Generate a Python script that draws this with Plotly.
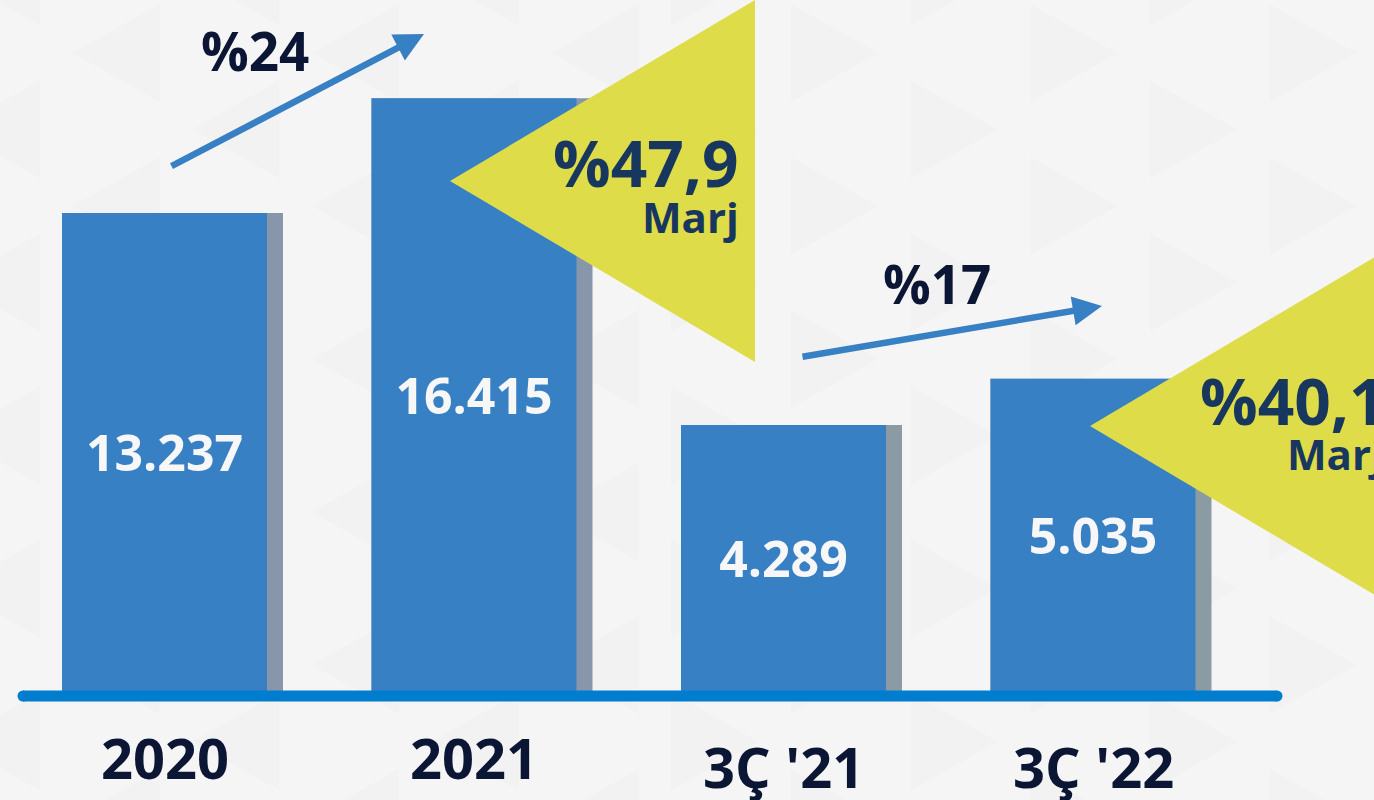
#%%

import plotly.graph_objs as go


categories = ["2020", "2021", "3Ç '21", "3Ç '22"]
values = [13237, 16415, 4289, 5035]     # yearly pair, then 3rd-quarter pair
growth = ["%24", "%17"]
margins = ["%47,9", "%40,1"]
margin_word = "Marj"

W, H = 1374, 800
blue = "#3880c4"
shade = ["#8796aa", "#8a9ba3"]
yellow = "#dfdc4a"
ink = "#0b1634"
navy = "#17375f"
font = "Open Sans"


def px(x):
    return x / W


def py(y):
    return 1 - y / H


# category axis: 309.5 px per category, first centre at 164.5 px
step = 309.5
bw = 205 / step
sw = 221 / step

fig = go.Figure()

# two scales: years on y, quarters on y2
for sl, ax, sc in [(slice(0, 2), "y", shade[0]), (slice(2, 4), "y2", shade[1])]:
    fig.add_trace(go.Bar(x=categories[sl], y=values[sl], yaxis=ax,
                         width=sw, offset=-bw / 2, marker=dict(color=sc, line=dict(width=0)),
                         hoverinfo="skip"))
    fig.add_trace(go.Bar(x=categories[sl], y=values[sl], yaxis=ax,
                         width=bw, offset=-bw / 2, marker=dict(color=blue, line=dict(width=0)),
                         texttemplate="%{y:,.0f}", textposition="inside",
                         insidetextanchor="middle", textangle=0,
                         textfont=dict(family=font, size=50, color="#f7f7f7", weight=700),
                         hoverinfo="skip"))

shapes = []

# faint triangle pattern in the background
for i in range(12):
    left = -47 + 119.7 * i
    for j in range(-1, 12):
        if (i + j) % 2 == 0:
            continue
        cy = 53 + 76.5 * j
        if i < 6:
            pts = [(left, cy), (left + 87, cy - 49), (left + 87, cy + 49)]
        else:
            pts = [(left + 87, cy), (left, cy - 49), (left, cy + 49)]
        path = "M " + " L ".join("%f,%f" % (px(a), py(b)) for a, b in pts) + " Z"
        shapes.append(dict(type="path", path=path, xref="paper", yref="paper",
                           fillcolor="#f2f2f2", line=dict(width=0), layer="below"))

# yellow margin triangles
for tip_x, tip_y in [(450, 181), (1090, 426)]:
    pts = [(tip_x, tip_y), (tip_x + 305, tip_y - 181), (tip_x + 305, tip_y + 181)]
    path = "M " + " L ".join("%f,%f" % (px(a), py(b)) for a, b in pts) + " Z"
    shapes.append(dict(type="path", path=path, xref="paper", yref="paper",
                       fillcolor=yellow, line=dict(width=0), layer="above"))

# baseline with round ends
base_y = 696
shapes.append(dict(type="line", xref="paper", yref="paper", x0=px(23), x1=px(1277),
                   y0=py(base_y), y1=py(base_y), line=dict(color="#007dce", width=11), layer="above"))
for cx in [23, 1277]:
    shapes.append(dict(type="circle", xref="paper", yref="paper",
                       x0=px(cx - 5.5), x1=px(cx + 5.5), y0=py(base_y - 5.5), y1=py(base_y + 5.5),
                       fillcolor="#007dce", line=dict(width=0), layer="above"))

ann = []

# category labels under the baseline (x given as category index)
label_y = [757, 757, 766, 766]
for i, (c, ly) in enumerate(zip(categories, label_y)):
    ann.append(dict(x=i, xref="x", y=py(ly), yref="paper", text=c, showarrow=False,
                    xanchor="center", yanchor="middle",
                    font=dict(family=font, size=56, color=ink, weight=700)))

# growth arrows and labels
for (tail, tip), g, (gx, gy) in zip([((170, 167), (424, 34)), ((801, 357), (1102, 306))],
                                    growth, [(255, 50), (937, 283)]):
    ann.append(dict(x=px(tip[0]), y=py(tip[1]), xref="paper", yref="paper", text="",
                    showarrow=True, ax=tail[0] - tip[0], ay=tail[1] - tip[1],
                    arrowhead=2, arrowsize=0.9, arrowwidth=6.5, arrowcolor=blue, standoff=0))
    ann.append(dict(x=px(gx), y=py(gy), xref="paper", yref="paper", text=g, showarrow=False,
                    xanchor="center", yanchor="middle",
                    font=dict(family=font, size=53, color=ink, weight=700)))

# margin text inside the yellow triangles
ann.append(dict(x=px(741), y=py(162), xref="paper", yref="paper", text=margins[0], showarrow=False,
                xanchor="right", yanchor="middle", font=dict(family=font, size=64, color=navy, weight=700)))
ann.append(dict(x=px(741), y=py(216), xref="paper", yref="paper", text=margin_word, showarrow=False,
                xanchor="right", yanchor="middle", font=dict(family=font, size=42, color=navy, weight=700)))
ann.append(dict(x=px(1198), y=py(400), xref="paper", yref="paper", text=margins[1], showarrow=False,
                xanchor="left", yanchor="middle", font=dict(family=font, size=64, color=navy, weight=700)))
ann.append(dict(x=px(1285), y=py(453), xref="paper", yref="paper", text=margin_word, showarrow=False,
                xanchor="left", yanchor="middle", font=dict(family=font, size=42, color=navy, weight=700)))

fig.update_layout(
    width=W, height=H,
    margin=dict(l=0, r=0, t=0, b=0),
    paper_bgcolor="#f5f5f5",
    plot_bgcolor="rgba(0,0,0,0)",
    barmode="overlay",
    showlegend=False,
    separators=",.",
    xaxis=dict(type="category", categoryorder="array", categoryarray=categories,
               range=[-164.5 / step, (W - 164.5) / step], visible=False, fixedrange=True),
    yaxis=dict(range=[-3020, 19135], visible=False, fixedrange=True),
    yaxis2=dict(range=[-1758, 11140], overlaying="y", visible=False, fixedrange=True),
    shapes=shapes,
    annotations=ann,
)

# drop the browser's default body margin so the chart sits at the window corner
fig.write_html("out.html", post_script="document.body.style.margin='0';",
               config=dict(displayModeBar=False))
